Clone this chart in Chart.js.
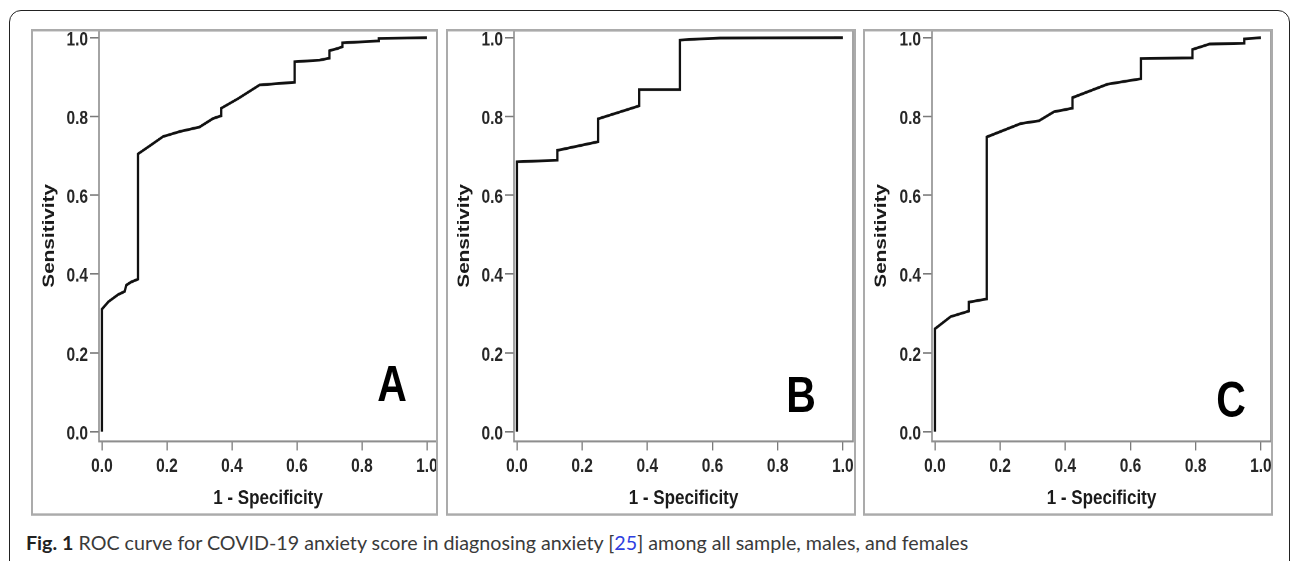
<!DOCTYPE html>
<html>
<head>
<meta charset="utf-8">
<script src="https://cdn.jsdelivr.net/npm/chart.js@4.4.1/dist/chart.umd.min.js"></script>
<style>
  html, body { margin: 0; padding: 0; background: #fff; }
  body { width: 1290px; height: 561px; position: relative; overflow: hidden; }
  .outer { position: absolute; left: 9px; top: 10px; width: 1281px; height: 620px;
           border: 1.5px solid #222; border-radius: 12px; box-sizing: border-box; }
  .panel { position: absolute; top: 29px; height: 399px; transform: scaleY(1.22); transform-origin: 0 0; }
  .panel canvas { position: absolute; left: 0; top: 0; }
  .frame { position: absolute; left: 0; top: 0; right: 0; bottom: 0; border: 2px solid #ababab;
           box-sizing: border-box; pointer-events: none; }
  .letter { position: absolute; width: 60px; text-align: center; font: bold 41px "Liberation Sans", Arial, sans-serif;
            line-height: 41px; color: #000; }
  .caption { position: absolute; left: 26px; top: 532px; font: 19.7px Lato, "Open Sans", sans-serif; line-height: 22px;
             color: #3a3a3a; white-space: nowrap; }
  .caption b { color: #222; }
  .caption .ref { color: #2f3fe0; }
</style>
</head>
<body>
<div class="outer"></div>

<div class="panel" style="left:31px;width:407px;">
  <canvas id="rocA" width="407" height="399"></canvas>
  <div class="frame"></div>
  <div class="letter" style="left:331px;top:271px;">A</div>
</div>
<div class="panel" style="left:446px;width:410px;">
  <canvas id="rocB" width="410" height="399"></canvas>
  <div class="frame"></div>
  <div class="letter" style="left:325px;top:280px;">B</div>
</div>
<div class="panel" style="left:863px;width:410px;">
  <canvas id="rocC" width="410" height="399"></canvas>
  <div class="frame"></div>
  <div class="letter" style="left:338px;top:284px;">C</div>
</div>

<div class="caption"><b>Fig. 1</b> ROC curve for COVID-19 anxiety score in diagnosing anxiety [<span class="ref">25</span>] among all sample, males, and females</div>

<script>
// A: all sample
const fprA = [0, 0, 0.02, 0.05, 0.07, 0.075, 0.09, 0.111, 0.111, 0.15, 0.188, 0.24, 0.30, 0.342, 0.367, 0.367, 0.42, 0.485, 0.593, 0.593, 0.67, 0.70, 0.70, 0.726, 0.74, 0.74, 0.852, 0.852, 1.0];
const tprA = [0, 0.311, 0.33, 0.348, 0.356, 0.372, 0.38, 0.387, 0.705, 0.727, 0.749, 0.762, 0.773, 0.795, 0.802, 0.821, 0.846, 0.88, 0.887, 0.939, 0.943, 0.948, 0.967, 0.973, 0.977, 0.987, 0.992, 0.998, 1.0];
// B: males
const fprB = [0, 0, 0.124, 0.124, 0.249, 0.249, 0.375, 0.375, 0.5, 0.5, 0.56, 0.623, 1.0];
const tprB = [0, 0.685, 0.689, 0.714, 0.736, 0.794, 0.827, 0.868, 0.868, 0.994, 0.997, 0.999, 1.0];
// C: females
const fprC = [0, 0, 0.048, 0.104, 0.104, 0.159, 0.159, 0.263, 0.319, 0.365, 0.422, 0.422, 0.529, 0.632, 0.632, 0.79, 0.79, 0.843, 0.949, 0.949, 1.0];
const tprC = [0, 0.261, 0.292, 0.306, 0.329, 0.337, 0.748, 0.782, 0.789, 0.812, 0.821, 0.848, 0.882, 0.896, 0.947, 0.949, 0.970, 0.984, 0.986, 0.997, 1.0];

const axisTicks = [0, 0.2, 0.4, 0.6, 0.8, 1.0];
const xTitle = '1 - Specificity';
const yTitle = 'Sensitivity';

const tickFont = { family: '"Liberation Sans", Arial, sans-serif', size: 15.5, weight: 'bold' };
const titleFont = { family: '"Liberation Sans", Arial, sans-serif', size: 17, weight: 'bold' };

const plotFrame = {
    id: 'plotFrame',
    afterDraw(chart) {
        const { ctx, chartArea: a } = chart;
        ctx.save();
        ctx.strokeStyle = '#8e8e8e';
        ctx.lineWidth = 1.6;
        ctx.strokeRect(a.left, a.top, a.right - a.left, a.bottom - a.top);
        ctx.restore();
    }
};

function rocChart(id, fpr, tpr, yWidth, rightPad) {
    const points = fpr.map((x, i) => ({ x: x, y: tpr[i] }));
    const setTicks = (s) => { s.ticks = axisTicks.map((v) => ({ value: v })); };
    return new Chart(document.getElementById(id), {
        type: 'scatter',
        data: { datasets: [{ data: points, showLine: true, borderColor: '#111', borderWidth: 2.3,
                             pointRadius: 0, tension: 0, fill: false }] },
        options: {
            responsive: false, animation: false, devicePixelRatio: 2,
            layout: { padding: { top: 1, right: rightPad, left: 0, bottom: 0 } },
            plugins: { legend: { display: false }, tooltip: { enabled: false } },
            scales: {
                x: {
                    type: 'linear', min: -0.009, max: 1.031,
                    afterBuildTicks: setTicks,
                    afterFit: (s) => { s.height = 61; s.paddingLeft = 0; s.paddingRight = 0; },
                    border: { display: false },
                    grid: { drawOnChartArea: false, drawTicks: true, tickLength: 7.4, color: '#7a7a7a', lineWidth: 1.3 },
                    ticks: { font: tickFont, color: '#262626', padding: 4, maxRotation: 0,
                             callback: (v) => v.toFixed(1) },
                    title: { display: true, text: xTitle, font: titleFont, color: '#1a1a1a', padding: { top: 0, bottom: 4 } }
                },
                y: {
                    type: 'linear', min: -0.0246, max: 1.019,
                    afterBuildTicks: setTicks,
                    afterFit: (s) => { s.width = yWidth; s.paddingTop = 0; s.paddingBottom = 0; },
                    border: { display: false },
                    grid: { drawOnChartArea: false, drawTicks: true, tickLength: 9, color: '#7a7a7a', lineWidth: 1.3 },
                    ticks: { font: tickFont, color: '#262626', padding: 2, labelOffset: 2,
                             callback: (v) => v.toFixed(1) },
                    title: { display: true, text: yTitle, font: titleFont, color: '#1a1a1a', padding: { top: 8, bottom: 0 } }
                }
            }
        },
        plugins: [plotFrame]
    });
}

rocChart('rocA', fprA, tprA, 68, 1);
rocChart('rocB', fprB, tprB, 68, 3);
rocChart('rocC', fprC, tprC, 69, 2);
</script>
</body>
</html>
